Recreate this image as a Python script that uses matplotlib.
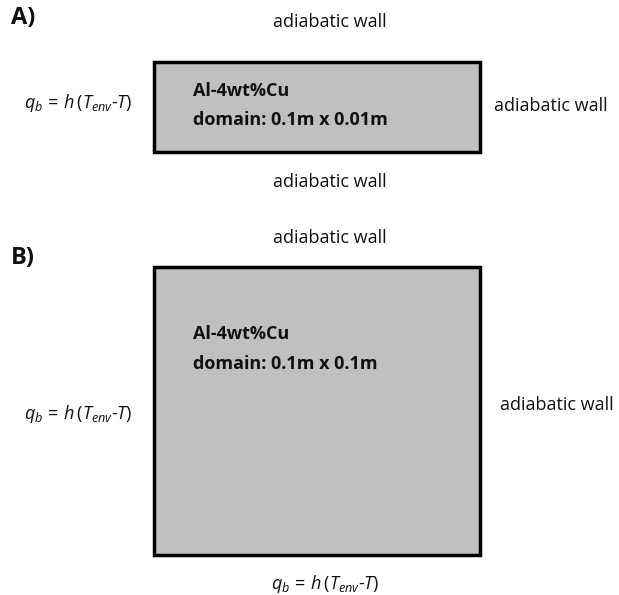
import matplotlib
matplotlib.use("Agg")
import matplotlib.pyplot as plt
from matplotlib.patches import Rectangle

plt.rcParams['font.family'] = ['Open Sans', 'DejaVu Sans']
plt.rcParams['mathtext.fontset'] = 'custom'
plt.rcParams['mathtext.it'] = 'Open Sans:italic'
plt.rcParams['mathtext.rm'] = 'Open Sans'

# Panel labels and texts
panel_labels = ["A)", "B)"]
material = "Al-4wt%Cu"
domains = ["domain: 0.1m x 0.01m", "domain: 0.1m x 0.1m"]
wall_text = "adiabatic wall"
bc_text = r"$q_b\,=\,h\,(T_{env}$-$T)$"

# rectangles in pixel layout: (x0, y0, x1, y1)
rects = [(154, 62, 480, 152), (154, 267, 480, 555)]

W, H = 619, 595
fig = plt.figure(figsize=(W / 100, H / 100), dpi=100)
ax = fig.add_axes([0, 0, 1, 1])
ax.set_xlim(0, W)
ax.set_ylim(H, 0)
ax.axis('off')

for (x0, y0, x1, y1) in rects:
    ax.add_patch(Rectangle((x0, y0), x1 - x0, y1 - y0, facecolor='#c0c0c0',
                           edgecolor='black', linewidth=2.5))

fs = 13
tc = '#111111'
# Panel A
ax.text(11, 18, panel_labels[0], fontsize=17, fontweight='bold', va='center', ha='left', color=tc)
ax.text(330, 22, wall_text, fontsize=fs, ha='center', va='center', color=tc)
ax.text(494, 106, wall_text, fontsize=fs, ha='left', va='center', color=tc)
ax.text(330, 182, wall_text, fontsize=fs, ha='center', va='center', color=tc)
ax.text(78, 103, bc_text, fontsize=fs, ha='center', va='center', color=tc)
ax.text(193, 91, material, fontsize=fs, fontweight='bold', ha='left', va='center', color=tc)
ax.text(193, 120, domains[0], fontsize=fs, fontweight='bold', ha='left', va='center', color=tc)

# Panel B
ax.text(11, 258, panel_labels[1], fontsize=17, fontweight='bold', va='center', ha='left', color=tc)
ax.text(330, 238, wall_text, fontsize=fs, ha='center', va='center', color=tc)
ax.text(500, 405, wall_text, fontsize=fs, ha='left', va='center', color=tc)
ax.text(78, 414, bc_text, fontsize=fs, ha='center', va='center', color=tc)
ax.text(325, 584, bc_text, fontsize=fs, ha='center', va='center', color=tc)
ax.text(193, 334, material, fontsize=fs, fontweight='bold', ha='left', va='center', color=tc)
ax.text(193, 364, domains[1], fontsize=fs, fontweight='bold', ha='left', va='center', color=tc)

fig.savefig('out.png', dpi=100)
